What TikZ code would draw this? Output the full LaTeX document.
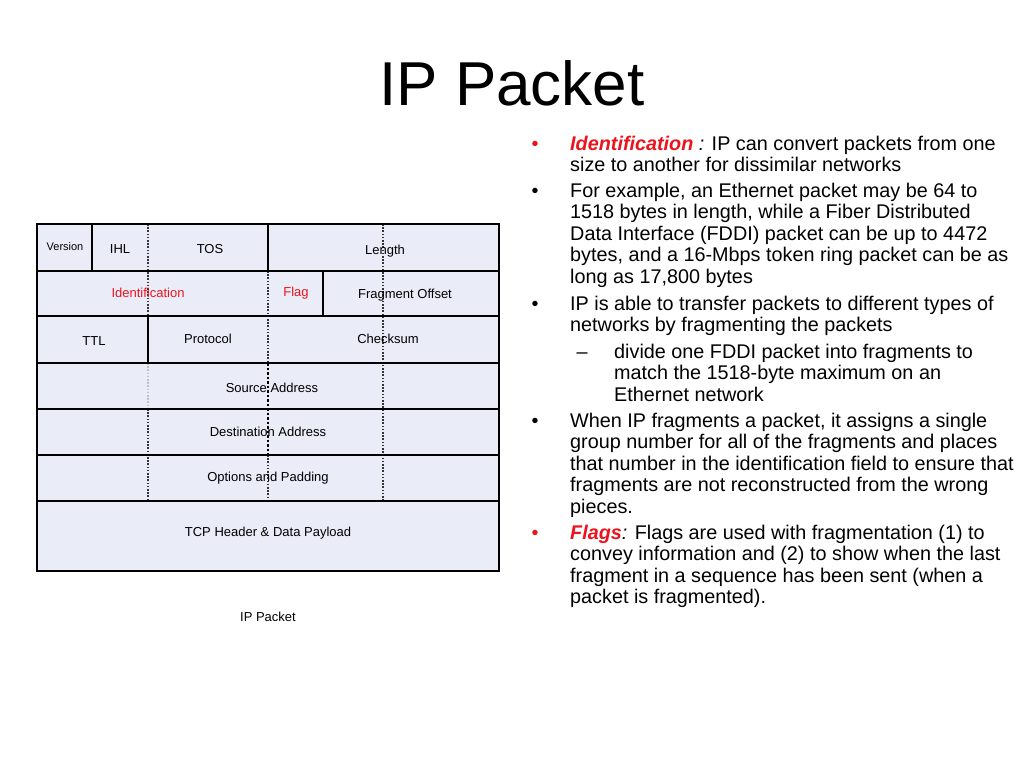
\documentclass[tikz,border=0pt]{standalone}
\usepackage{fontspec}
\setmainfont{Liberation Sans}
\usetikzlibrary{positioning}
\definecolor{cellfill}{RGB}{234,237,247}
\definecolor{keyred}{RGB}{235,20,30}

\begin{document}
\begin{tikzpicture}[x=1pt, y=-1pt,
    field/.style={font=\fontsize{13}{15}\selectfont, inner sep=0pt},
    keyfield/.style={field, text=keyred},
    rowline/.style={draw=black, line width=1.8pt},
    colline/.style={draw=black, line width=1.2pt},
    dotline/.style={draw=black!80, line width=1.1pt, dash pattern=on 1.6pt off 1.6pt},
    para/.style={font=\fontsize{19.8}{21.6}\selectfont, anchor=base west, align=left, inner sep=0pt},
    bul/.style={font=\fontsize{19.8}{21.6}\selectfont, anchor=base, inner sep=0pt}
]
% page
\fill[white] (0,0) rectangle (1024,768);
\node[font=\fontsize{62}{70}\selectfont, anchor=base, inner sep=0pt] (title) at (512,105) {IP Packet};

% header table
\fill[cellfill] (37,224) rectangle (499,571);
\draw[dotline] (148,224) -- (148,316);
\draw[draw=gray!50, line width=1.1pt, dash pattern=on 1.6pt off 1.6pt] (148,363) -- (148,409);
\draw[dotline] (148,409) -- (148,501);
\draw[colline] (148,316) -- (148,363);
\draw[colline] (92,224) -- (92,271);
\draw[colline] (268,224) -- (268,271);
\draw[dotline] (268,271) -- (268,363);
\draw[dotline, draw=black, line width=2pt, dash pattern=on 2.5pt off 2pt] (268,363) -- (268,455);
\draw[dotline] (268,455) -- (268,501);
\draw[colline] (323,271) -- (323,316);
\draw[dotline] (383,224) -- (383,501);
\foreach \y in {271,316,363,409,455,501}
  \draw[rowline] (37,\y) -- (499,\y);
\draw[rowline] (37,224) rectangle (499,571);

% field labels
\node[field, font=\fontsize{11}{13}\selectfont] (ver) at (65,247) {Version};
\node[field] (ihl) at (120,249) {IHL};
\node[field] (tos) at (210,249) {TOS};
\node[field] (len) at (385,251) {Length};
\node[keyfield] (ident) at (148,293) {Identification};
\node[keyfield] (flag) at (296,293) {Flag};
\node[field] (frag) at (405,295) {Fragment Offset};
\node[field] (ttl) at (94,341) {TTL};
\node[field] (proto) at (208,339) {Protocol};
\node[field] (csum) at (388,339) {Checksum};
\node[field] (src) at (272,388) {Source Address};
\node[field] (dst) at (268,432) {Destination Address};
\node[field] (opt) at (268,478) {Options and Padding};
\node[field] (data) at (268,533) {TCP Header \& Data Payload};
\node[field] (caption) at (268,617) {IP Packet};

% bullet list (paragraphs anchored at the baseline of their last line)
\node[bul, text=keyred] (b1) at (535,150) {\textbullet};
\node[para] (p1) at (570,171.6) {\textcolor{keyred}{\textbf{\textit{Identification}}}\textit{ :} IP can convert packets from one\\size to another for dissimilar networks};
\node[bul] (b2) at (535,197) {\textbullet};
\node[para] (p2) at (570,283.4) {For example, an Ethernet packet may be 64 to\\1518 bytes in length, while a Fiber Distributed\\Data Interface (FDDI) packet can be up to 4472\\bytes, and a 16-Mbps token ring packet can be as\\long as 17,800 bytes};
\node[bul] (b3) at (535,310) {\textbullet};
\node[para] (p3) at (570,331.6) {IP is able to transfer packets to different types of\\networks by fragmenting the packets};
\node[bul] (d1) at (582,358) {--};
\node[para] (p4) at (614,401.2) {divide one FDDI packet into fragments to\\match the 1518-byte maximum on an\\Ethernet network};
\node[bul] (b4) at (535,427) {\textbullet};
\node[para] (p5) at (570,513.4) {When IP fragments a packet, it assigns a single\\group number for all of the fragments and places\\that number in the identification field to ensure that\\fragments are not reconstructed from the wrong\\pieces.};
\node[bul, text=keyred] (b5) at (535,539) {\textbullet};
\node[para] (p6) at (570,603.8) {\textcolor{keyred}{\textbf{\textit{Flags}}}\textit{:} Flags are used with fragmentation (1) to\\convey information and (2) to show when the last\\fragment in a sequence has been sent (when a\\packet is fragmented).};
\end{tikzpicture}
\end{document}
